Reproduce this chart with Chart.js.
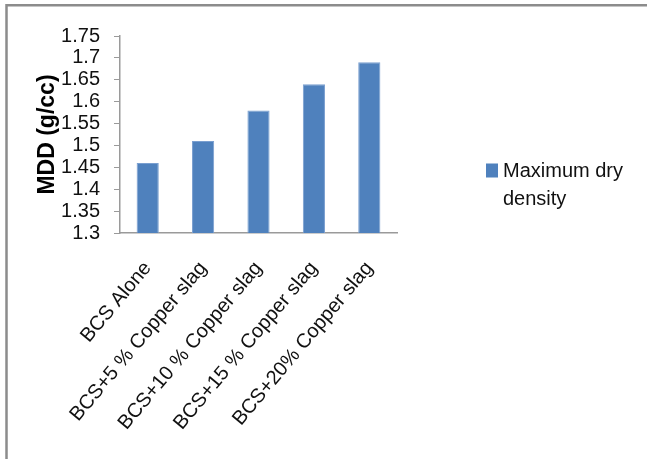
<!DOCTYPE html>
<html>
<head>
<meta charset="utf-8">
<script src="https://cdn.jsdelivr.net/npm/chart.js@4/dist/chart.umd.min.js"></script>
<style>
  html, body { margin: 0; padding: 0; background: #ffffff; }
  #box { position: relative; width: 647px; height: 459px; }
</style>
</head>
<body>
<div id="box"><canvas id="chart" width="647" height="459"></canvas></div>
<script>
// Soil mixes tested
const categories = [
  'BCS Alone',
  'BCS+5 % Copper slag',
  'BCS+10 % Copper slag',
  'BCS+15 % Copper slag',
  'BCS+20% Copper slag'
];
// Maximum dry density, g/cc
const mddValues = [1.46, 1.51, 1.58, 1.64, 1.69];
const seriesName = ['Maximum dry', 'density'];
const yAxisTitle = 'MDD (g/cc)';
// Value axis range and step
const yMin = 1.3;
const yMax = 1.75;
const yStep = 0.05;

const FONT = '"Liberation Sans", Arial, sans-serif';
const BAR = '#4f81bd';

// Frame around the chart (left and top edges visible)
const framePlugin = {
  id: 'frame',
  beforeDraw(chart) {
    const ctx = chart.ctx;
    ctx.save();
    ctx.fillStyle = '#ffffff';
    ctx.fillRect(0, 0, chart.width, chart.height);
    ctx.strokeStyle = '#8c8c8c';
    ctx.lineWidth = 2.5;
    ctx.beginPath();
    ctx.moveTo(6.5, chart.height);
    ctx.lineTo(6.5, 5.2);
    ctx.lineTo(chart.width, 5.2);
    ctx.stroke();
    ctx.restore();
  }
};

// Legend on the right with wrapped series name
const sideLegend = {
  id: 'sideLegend',
  afterDraw(chart) {
    const ctx = chart.ctx;
    const area = chart.chartArea;
    const ds = chart.data.datasets[0];
    const x = area.right + 89;
    const y = (area.top + area.bottom) / 2 + 36;
    ctx.save();
    ctx.fillStyle = ds.backgroundColor;
    ctx.fillRect(x, y - 7, 12, 14);
    ctx.fillStyle = '#111111';
    ctx.font = '20px ' + FONT;
    ctx.textBaseline = 'middle';
    ctx.textAlign = 'left';
    seriesName.forEach((line, i) => ctx.fillText(line, x + 17, y + 1 + i * 28));
    ctx.restore();
  }
};

new Chart(document.getElementById('chart'), {
  type: 'bar',
  data: {
    labels: categories,
    datasets: [{
      label: seriesName.join(' '),
      data: mddValues,
      backgroundColor: BAR,
      borderColor: '#7a9fd0',
      borderWidth: 1,
      categoryPercentage: 1,
      barPercentage: 0.4
    }]
  },
  options: {
    responsive: false,
    animation: false,
    events: [],
    layout: { padding: { left: 30, top: 36, right: 250, bottom: 29 } },
    plugins: {
      legend: { display: false },
      tooltip: { enabled: false }
    },
    scales: {
      x: {
        grid: { display: false, drawTicks: false },
        border: { display: true, color: '#9a9a9a', width: 1.5 },
        ticks: {
          color: '#111111',
          font: { family: FONT, size: 20 },
          minRotation: 50,
          maxRotation: 50,
          padding: 24,
          autoSkip: false
        }
      },
      y: {
        min: yMin,
        max: yMax,
        afterFit(scale) { scale.width = 90; },
        grid: { drawOnChartArea: false, drawTicks: true, tickLength: 6, color: '#9a9a9a' },
        border: { display: true, color: '#9a9a9a', width: 1.5 },
        ticks: {
          stepSize: yStep,
          autoSkip: false,
          color: '#111111',
          padding: 14,
          font: { family: FONT, size: 20, lineHeight: 1 },
          callback: v => String(+v.toFixed(2))
        },
        title: {
          display: true,
          text: yAxisTitle,
          color: '#000000',
          font: { family: FONT, size: 23, weight: 'bold', lineHeight: 1 },
          padding: { top: 6, bottom: 2 }
        }
      }
    }
  },
  plugins: [framePlugin, sideLegend]
});
</script>
</body>
</html>
